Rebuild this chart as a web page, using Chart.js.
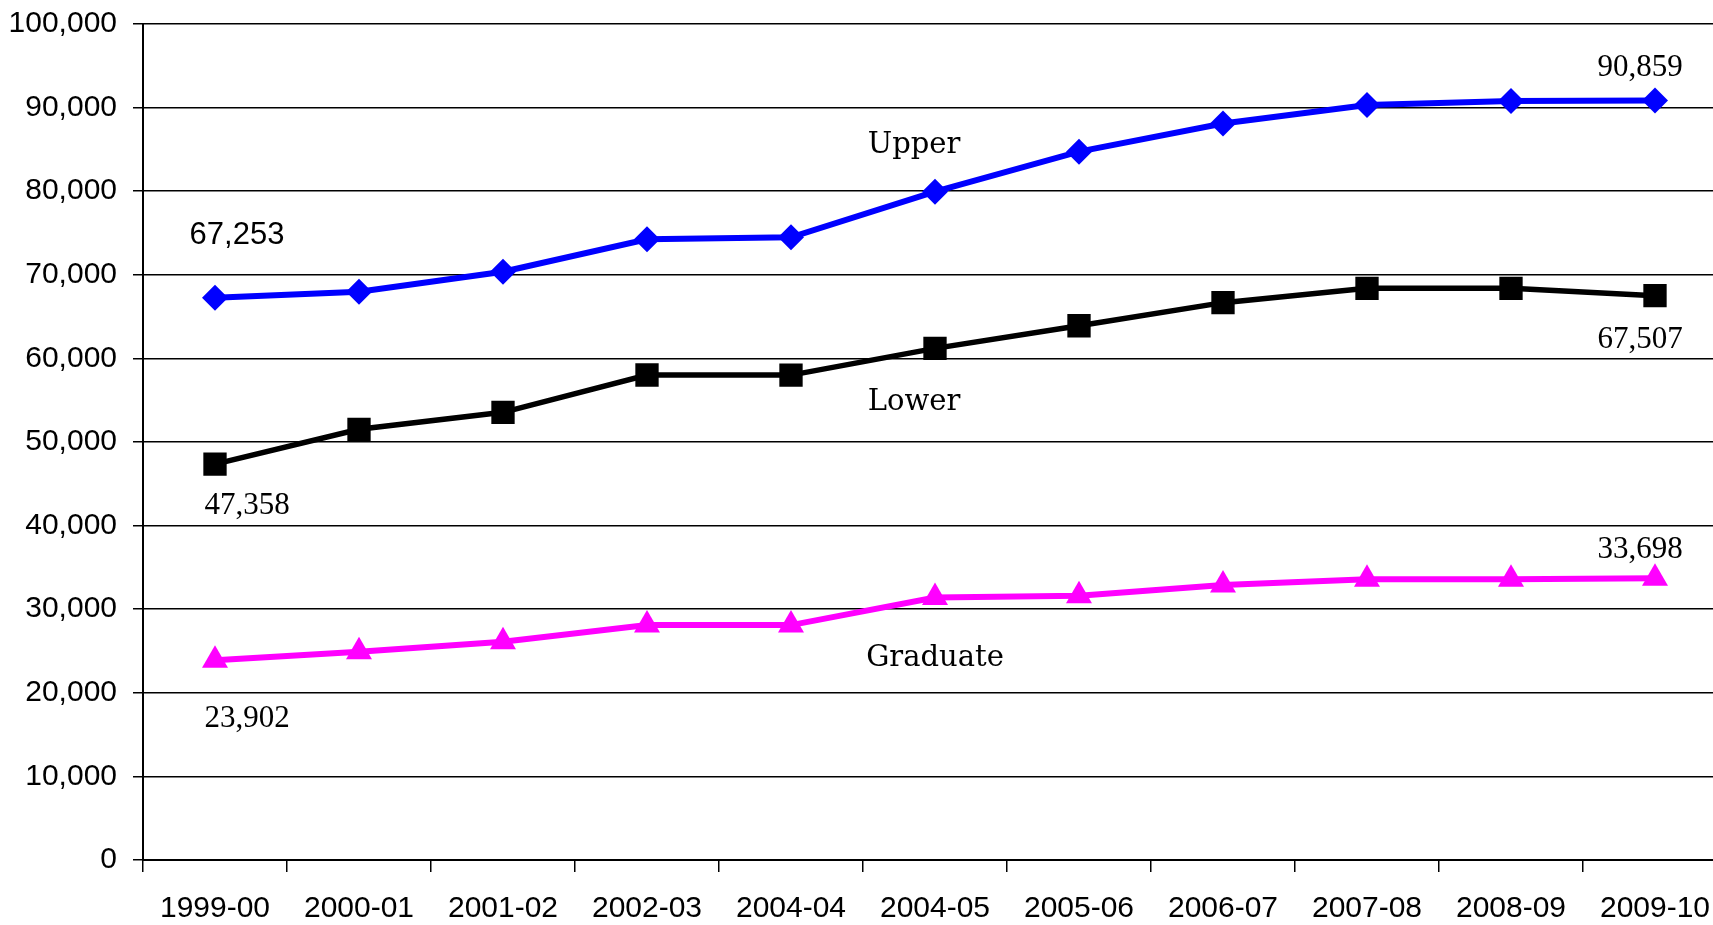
<!DOCTYPE html>
<html>
<head>
<meta charset="utf-8">
<title>Enrollment by level, 1999-00 to 2009-10</title>
<script src="https://cdn.jsdelivr.net/npm/chart.js@4/dist/chart.umd.min.js"></script>
<style>
  html, body { margin: 0; padding: 0; background: #fff; overflow: hidden; }
  canvas { display: block; }
</style>
</head>
<body>
<canvas id="chart" width="1713" height="925"></canvas>
<script>
// Academic years on the category axis
const years = ['1999-00', '2000-01', '2001-02', '2002-03', '2004-04', '2004-05',
               '2005-06', '2006-07', '2007-08', '2008-09', '2009-10'];

// Enrollment by level
const upperValues    = [67253, 67980, 70370, 74240, 74480, 79940, 84730, 88100, 90310, 90790, 90859];
const lowerValues    = [47358, 51520, 53550, 58010, 58000, 61200, 63910, 66670, 68380, 68380, 67507];
const graduateValues = [23902, 24920, 26100, 28100, 28100, 31400, 31600, 32900, 33570, 33570, 33698];

// Y axis range and step
const yMin = 0;
const yMax = 100000;
const yStep = 10000;

const fmt = v => Number(v).toLocaleString('en-US');

const SANS = "'Liberation Sans', Arial, sans-serif";
const SERIF = "'Liberation Serif', 'Times New Roman', serif";
const NAME_SERIF = "'DejaVu Serif', serif";

// The plot runs a little past the right edge of the canvas, so the last
// category box is cut off by the page border.
const plotOverhang = 14;

// Value call-outs on the first and last points of each series (offsets in px from the point)
const valueCallouts = [
  { ds: 0, i: 0,  dx: 22,  dy: -62, font: '31px ' + SANS },
  { ds: 0, i: 10, dx: -15, dy: -33, font: '31px ' + SERIF },
  { ds: 1, i: 0,  dx: 32,  dy: 42,  font: '31px ' + SERIF },
  { ds: 1, i: 10, dx: -15, dy: 44,  font: '31px ' + SERIF },
  { ds: 2, i: 0,  dx: 32,  dy: 59,  font: '31px ' + SERIF },
  { ds: 2, i: 10, dx: -15, dy: -28, font: '31px ' + SERIF }
];

// Series names placed inside the plot (anchored on a category and a y value)
const seriesNames = [
  { text: 'Upper',    cat: 5, dx: -21, y: 85500 },
  { text: 'Lower',    cat: 5, dx: -21, y: 54700 },
  { text: 'Graduate', cat: 5, dx: 0,   y: 24100 }
];

const overhangPlugin = {
  id: 'overhang',
  afterLayout(chart) {
    const area = chart.chartArea;
    area.right = chart.width + plotOverhang;
    area.width = area.right - area.left;
    const x = chart.scales.x;
    x.right = area.right;
    x.width = x.right - x.left;
    x.configure();
  }
};

const annotationPlugin = {
  id: 'annotations',
  afterDatasetsDraw(chart) {
    const { ctx, scales: { x, y } } = chart;
    ctx.save();
    ctx.fillStyle = '#000';
    ctx.textAlign = 'center';
    ctx.textBaseline = 'middle';
    valueCallouts.forEach(c => {
      const pt = chart.getDatasetMeta(c.ds).data[c.i];
      const val = chart.data.datasets[c.ds].data[c.i];
      ctx.font = c.font;
      ctx.fillText(fmt(val), pt.x + c.dx, pt.y + c.dy);
    });
    ctx.font = '29px ' + NAME_SERIF;
    seriesNames.forEach(n => {
      ctx.fillText(n.text, x.getPixelForValue(n.cat) + n.dx, y.getPixelForValue(n.y));
    });
    ctx.restore();
  }
};

new Chart(document.getElementById('chart'), {
  type: 'line',
  data: {
    labels: years,
    datasets: [
      {
        label: 'Upper',
        data: upperValues,
        borderColor: '#0000FF',
        backgroundColor: '#0000FF',
        borderWidth: 6,
        pointStyle: 'rectRot',
        pointRadius: 13,
        pointBorderWidth: 0,
        tension: 0
      },
      {
        label: 'Lower',
        data: lowerValues,
        borderColor: '#000000',
        backgroundColor: '#000000',
        borderWidth: 5.5,
        pointStyle: 'rect',
        pointRadius: 16.5,
        pointBorderWidth: 0,
        tension: 0
      },
      {
        label: 'Graduate',
        data: graduateValues,
        borderColor: '#FF00FF',
        backgroundColor: '#FF00FF',
        borderWidth: 6,
        pointStyle: 'triangle',
        pointRadius: 15,
        pointBorderWidth: 0,
        tension: 0
      }
    ]
  },
  options: {
    responsive: false,
    animation: false,
    devicePixelRatio: 1,
    layout: { padding: { top: 24, right: 0, left: 0, bottom: 0 } },
    plugins: {
      legend: { display: false },
      tooltip: { enabled: false }
    },
    scales: {
      x: {
        type: 'category',
        offset: true,
        grid: {
          offset: true,
          drawOnChartArea: false,
          drawTicks: true,
          tickLength: 12,
          color: '#000',
          lineWidth: 1.5
        },
        border: { color: '#000', width: 2 },
        ticks: {
          color: '#000',
          font: { family: SANS, size: 30 },
          padding: 19,
          maxRotation: 0,
          autoSkip: false
        },
        afterFit(scale) { scale.height = 65; scale.paddingRight = 0; scale.paddingLeft = 0; }
      },
      y: {
        min: yMin,
        max: yMax,
        grid: {
          color: '#000',
          lineWidth: 1.5,
          drawTicks: true,
          tickLength: 10
        },
        border: { color: '#000', width: 2 },
        ticks: {
          stepSize: yStep,
          color: '#000',
          font: { family: SANS, size: 30 },
          padding: 16,
          callback: v => fmt(v)
        },
        afterFit(scale) { scale.width = 143; scale.paddingTop = 0; scale.paddingBottom = 0; }
      }
    }
  },
  plugins: [overhangPlugin, annotationPlugin]
});
</script>
</body>
</html>
